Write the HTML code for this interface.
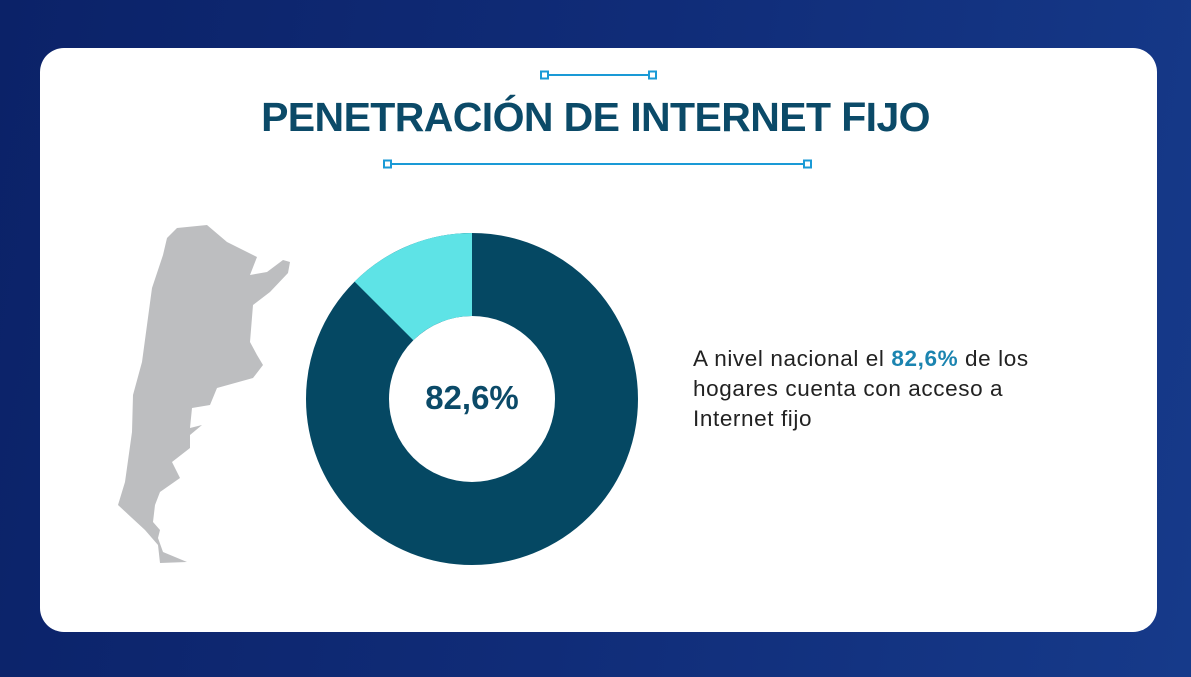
<!DOCTYPE html>
<html><head><meta charset="utf-8"><style>
html,body{margin:0;padding:0;width:1191px;height:677px;overflow:hidden;}
body{background:linear-gradient(100deg,#0b2268 0%,#102c78 50%,#163a8a 100%);font-family:"Liberation Sans",sans-serif;position:relative;}
.card{position:absolute;left:40px;top:48px;width:1117px;height:584px;background:#fff;border-radius:24px;}
.title{position:absolute;left:0;width:1191px;top:94px;text-align:center;font-size:41px;font-weight:bold;color:#0b4a68;letter-spacing:-0.6px;}
.txt{position:absolute;left:693px;top:344px;font-size:22.5px;line-height:30px;color:#222;letter-spacing:0.6px;white-space:nowrap;}
.txt b{color:#1b84b0;}
</style></head><body>
<div class="card"></div>
<svg width="1191" height="677" style="position:absolute;left:0;top:0">
<g stroke="#1a9ad6" stroke-width="2" fill="#fff">
<line x1="548" y1="75" x2="650" y2="75"/>
<rect x="541" y="71.5" width="7" height="7"/><rect x="649" y="71.5" width="7" height="7"/>
<line x1="391" y1="164" x2="804" y2="164"/>
<rect x="384" y="160.5" width="7" height="7"/><rect x="804" y="160.5" width="7" height="7"/>
</g>
<path fill="#bdbec0" d="M177,228 L207,225 L227,242 L257,257 L250,275 L267,272 L283,260 L290,262 L288,273 L270,292 L253,305 L250,342 L257,355 L263,365 L253,378 L217,388 L210,405 L192,408 L190,428 L202,425 L190,435 L190,448 L172,462 L180,478 L160,492 L155,505 L153,522 L160,530 L158,538 L163,552 L187,562 L160,563 L158,545 L145,530 L118,505 L125,482 L132,432 L133,395 L142,362 L147,325 L152,288 L163,255 L167,238 Z"/>
<circle cx="472" cy="399" r="124.5" fill="none" stroke="#054863" stroke-width="83"/>
<path fill="#5ee3e6" d="M472,233 A166,166 0 0 0 354.6,281.6 L413.3,340.3 A83,83 0 0 1 472,316 Z"/>
<text x="472" y="409" text-anchor="middle" font-family="Liberation Sans" font-weight="bold" font-size="33" fill="#0b4a68">82,6%</text>
</svg>
<div class="title">PENETRACIÓN DE INTERNET FIJO</div>
<div class="txt">A nivel nacional el <b>82,6%</b> de los<br>hogares cuenta con acceso a<br>Internet fijo</div>
</body></html>
